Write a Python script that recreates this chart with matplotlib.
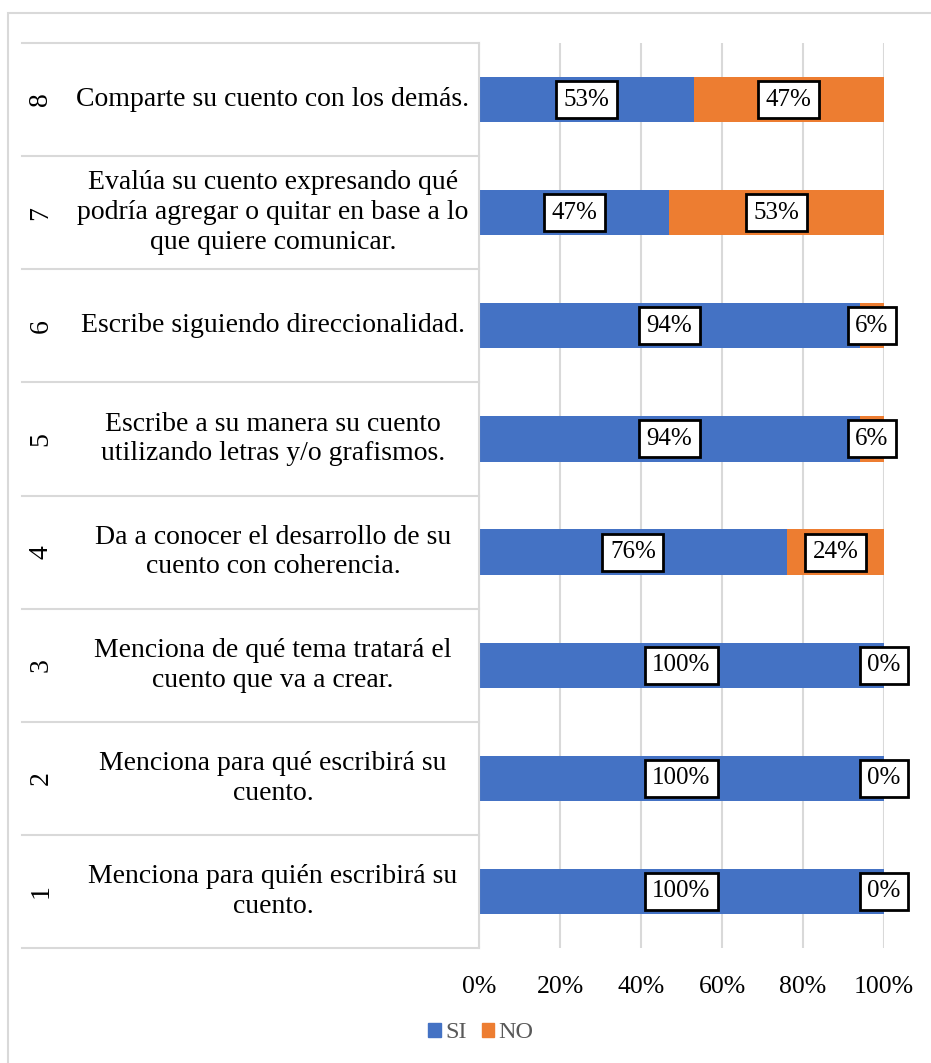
"""
plot.py - Stacked 100% bar chart of SI / NO per writing indicator
"""
import numpy as np
import matplotlib
matplotlib.use("Agg")
import matplotlib.pyplot as plt
from matplotlib.patches import Patch, Rectangle
from matplotlib.lines import Line2D

items = ["1", "2", "3", "4", "5", "6", "7", "8"]
labels = [
    "Menciona para quién escribirá su\ncuento.",
    "Menciona para qué escribirá su\ncuento.",
    "Menciona de qué tema tratará el\ncuento que va a crear.",
    "Da a conocer el desarrollo de su\ncuento con coherencia.",
    "Escribe a su manera su cuento\nutilizando letras y/o grafismos.",
    "Escribe siguiendo direccionalidad.",
    "Evalúa su cuento expresando qué\npodría agregar o quitar en base a lo\nque quiere comunicar.",
    "Comparte su cuento con los demás.",
]
si = [100, 100, 100, 76, 94, 94, 47, 53]
no = [0, 0, 0, 24, 6, 6, 53, 47]
ticks = [0, 20, 40, 60, 80, 100]

BLUE, ORANGE, GRID = "#4472C4", "#ED7D31", "#D9D9D9"
plt.rcParams["font.family"] = ["Liberation Serif", "DejaVu Serif"]

W, H = 931, 1063
fig = plt.figure(figsize=(W / 100, H / 100), dpi=100)

# outer chart border
fig.patches.append(Rectangle((8 / W, -0.1), 1.2, 1 - 13 / H + 0.1,
                             transform=fig.transFigure, fill=False,
                             edgecolor=GRID, lw=1.5))

x0, x1, ytop, ybot = 479, 884, 43, 948
ax = fig.add_axes([x0 / W, 1 - ybot / H, (x1 - x0) / W, (ybot - ytop) / H])

y = np.arange(len(items))
ax.barh(y, si, height=0.4, color=BLUE)
ax.barh(y, no, left=si, height=0.4, color=ORANGE)

box = dict(boxstyle="square,pad=0.3", fc="white", ec="black", lw=2)
for i in range(len(items)):
    ax.text(si[i] / 2, y[i], f"{si[i]}%", ha="center", va="center",
            fontsize=18, bbox=box, zorder=5)
    ax.text(si[i] + no[i] / 2, y[i], f"{no[i]}%", ha="center", va="center",
            fontsize=18, bbox=box, zorder=5)

ax.set_xlim(0, 100)
ax.set_ylim(-0.5, len(items) - 0.5)
ax.set_xticks(ticks)
ax.set_xticklabels([f"{t}%" for t in ticks], fontsize=18.5)
ax.set_yticks([])
ax.tick_params(axis="x", length=0, pad=20)
ax.grid(axis="x", color=GRID, lw=1.5)
ax.set_axisbelow(True)
for s in ["top", "right", "bottom"]:
    ax.spines[s].set_visible(False)
ax.spines["left"].set_color(GRID)
ax.spines["left"].set_linewidth(1.5)

# multi-level category axis
tr = ax.get_yaxis_transform()
xl = (22 - x0) / (x1 - x0)
for k in range(len(items) + 1):
    ax.add_line(Line2D([xl, 0], [k - 0.5, k - 0.5], transform=tr,
                       color=GRID, lw=1.5, clip_on=False))
for i in range(len(items)):
    ax.text((273 - x0) / (x1 - x0), y[i], labels[i], transform=tr,
            ha="center", va="center", fontsize=20, linespacing=1.25)
    ax.text((41 - x0) / (x1 - x0), y[i], items[i], transform=tr,
            ha="center", va="center", fontsize=20, rotation=90)

handles = [Patch(color=BLUE, label="SI"), Patch(color=ORANGE, label="NO")]
leg = fig.legend(handles=handles, loc="center", ncol=2,
                 bbox_to_anchor=(481 / W, 1 - 1033 / H), frameon=False,
                 fontsize=17.5, handlelength=0.5, handleheight=0.5,
                 handletextpad=0.2, columnspacing=0.6)
for t in leg.get_texts():
    t.set_color("#595959")

fig.savefig("out.png", dpi=100)
